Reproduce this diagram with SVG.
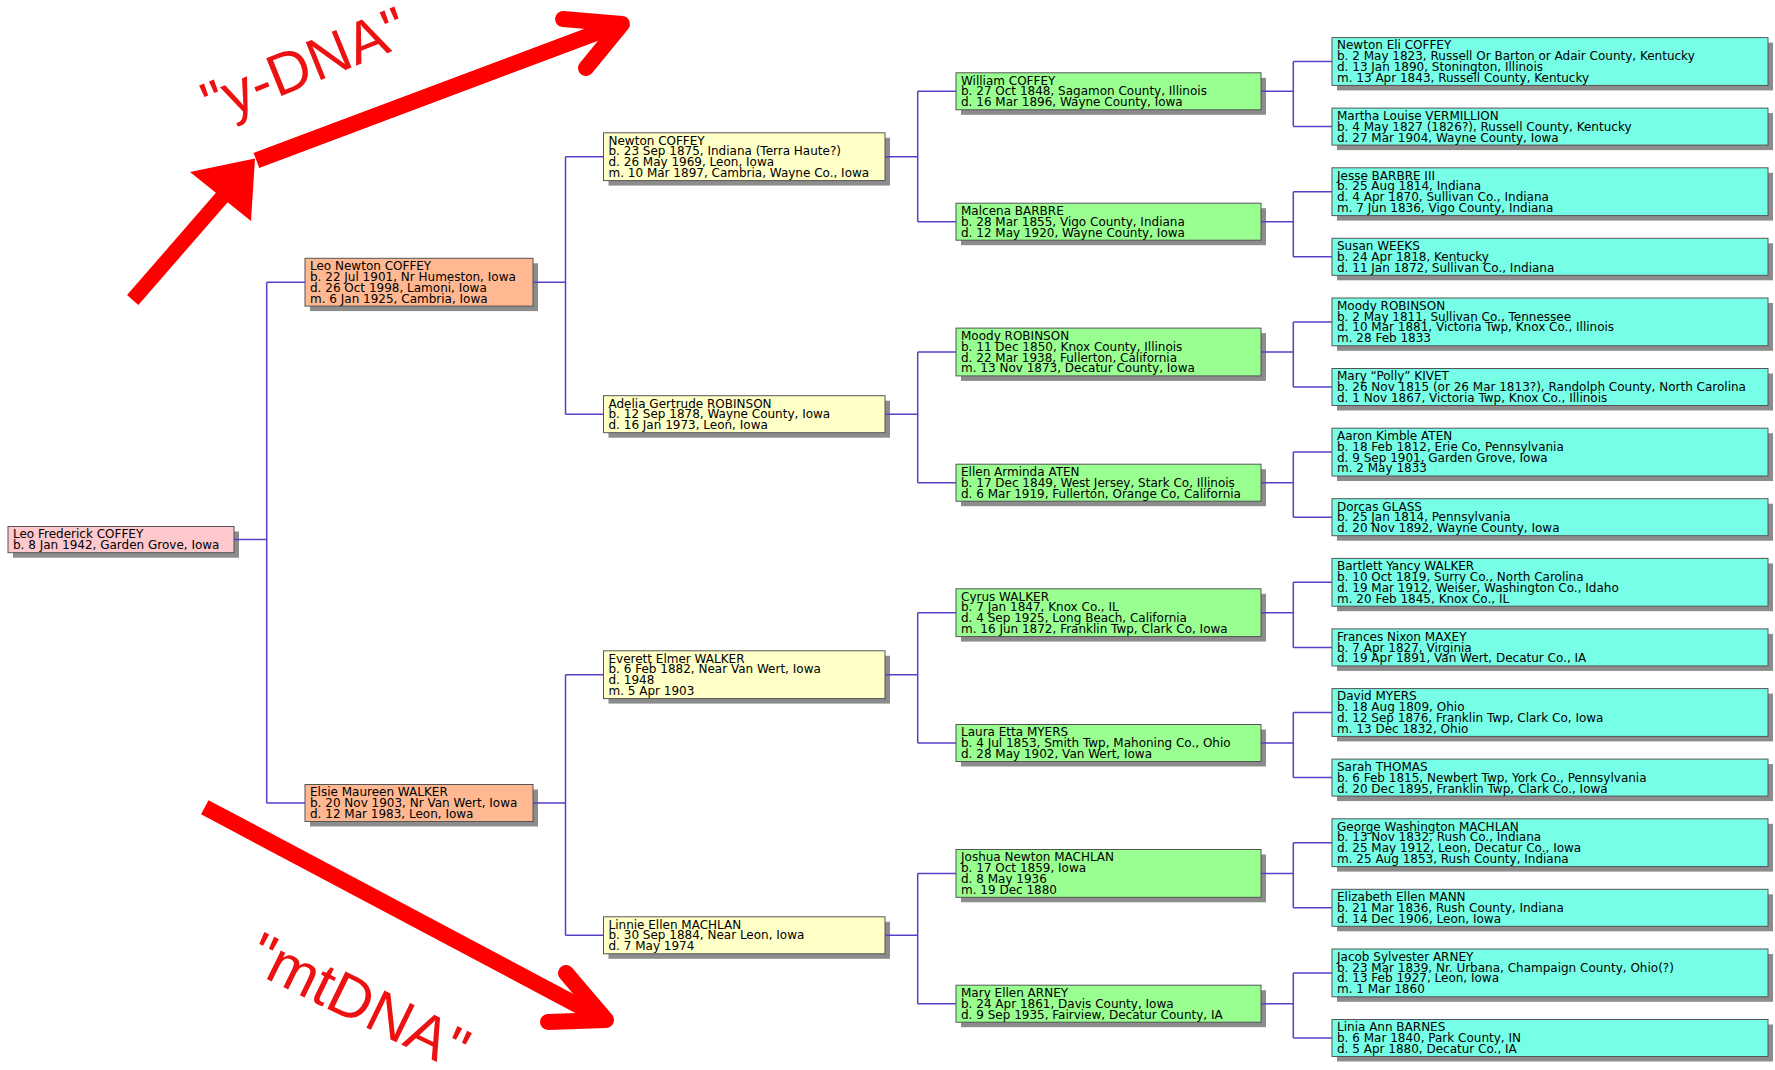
<svg xmlns="http://www.w3.org/2000/svg" width="1775" height="1070" viewBox="0 0 1775 1070">
<style>
.sh{fill:#8c8c8c}
.bx{stroke:#555;stroke-width:1}
.c0{fill:#ffc8cc}.c1{fill:#ffb892}.c2{fill:#ffffc8}.c3{fill:#99ff90}.c4{fill:#76ffe6}
.t{font-family:"DejaVu Sans",Verdana,sans-serif;font-size:12px;fill:#000}
.cn{stroke:#5b3ec8;stroke-width:1.5;fill:none}
.ar{stroke:#ff0000;fill:none}
.big{font-family:"Liberation Sans",Arial,sans-serif;fill:#ee1111}
</style>
<rect width="1775" height="1070" fill="#fff"/>

<!-- Column 0 -->
<g id="p1"><rect class="sh" x="13" y="531.5" width="226" height="26.2"/><rect class="bx c0" x="8" y="526.5" width="226" height="26.2"/>
<text class="t" x="13" y="538.3"><tspan x="13">Leo Frederick COFFEY</tspan><tspan x="13" dy="10.8">b. 8 Jan 1942, Garden Grove, Iowa</tspan></text></g>

<!-- Column 1 -->
<g id="p2"><rect class="sh" x="310" y="263.3" width="228" height="47.8"/><rect class="bx c1" x="305" y="258.3" width="228" height="47.8"/>
<text class="t" x="310" y="270.1"><tspan x="310">Leo Newton COFFEY</tspan><tspan x="310" dy="10.8">b. 22 Jul 1901, Nr Humeston, Iowa</tspan><tspan x="310" dy="10.8">d. 26 Oct 1998, Lamoni, Iowa</tspan><tspan x="310" dy="10.8">m. 6 Jan 1925, Cambria, Iowa</tspan></text></g>
<g id="p3"><rect class="sh" x="310" y="789.5" width="228" height="37"/><rect class="bx c1" x="305" y="784.5" width="228" height="37"/>
<text class="t" x="310" y="796.3"><tspan x="310">Elsie Maureen WALKER</tspan><tspan x="310" dy="10.8">b. 20 Nov 1903, Nr Van Wert, Iowa</tspan><tspan x="310" dy="10.8">d. 12 Mar 1983, Leon, Iowa</tspan></text></g>

<!-- Column 2 -->
<g id="p4"><rect class="sh" x="608.5" y="137.8" width="281.5" height="47.8"/><rect class="bx c2" x="603.5" y="132.8" width="281.5" height="47.8"/>
<text class="t" x="608.5" y="144.6"><tspan x="608.5">Newton COFFEY</tspan><tspan x="608.5" dy="10.8">b. 23 Sep 1875, Indiana (Terra Haute?)</tspan><tspan x="608.5" dy="10.8">d. 26 May 1969, Leon, Iowa</tspan><tspan x="608.5" dy="10.8">m. 10 Mar 1897, Cambria, Wayne Co., Iowa</tspan></text></g>
<g id="p5"><rect class="sh" x="608.5" y="400.7" width="281.5" height="37"/><rect class="bx c2" x="603.5" y="395.7" width="281.5" height="37"/>
<text class="t" x="608.5" y="407.5"><tspan x="608.5">Adelia Gertrude ROBINSON</tspan><tspan x="608.5" dy="10.8">b. 12 Sep 1878, Wayne County, Iowa</tspan><tspan x="608.5" dy="10.8">d. 16 Jan 1973, Leon, Iowa</tspan></text></g>
<g id="p6"><rect class="sh" x="608.5" y="655.8" width="281.5" height="47.8"/><rect class="bx c2" x="603.5" y="650.8" width="281.5" height="47.8"/>
<text class="t" x="608.5" y="662.6"><tspan x="608.5">Everett Elmer WALKER</tspan><tspan x="608.5" dy="10.8">b. 6 Feb 1882, Near Van Wert, Iowa</tspan><tspan x="608.5" dy="10.8">d. 1948</tspan><tspan x="608.5" dy="10.8">m. 5 Apr 1903</tspan></text></g>
<g id="p7"><rect class="sh" x="608.5" y="921.8" width="281.5" height="37"/><rect class="bx c2" x="603.5" y="916.8" width="281.5" height="37"/>
<text class="t" x="608.5" y="928.6"><tspan x="608.5">Linnie Ellen MACHLAN</tspan><tspan x="608.5" dy="10.8">b. 30 Sep 1884, Near Leon, Iowa</tspan><tspan x="608.5" dy="10.8">d. 7 May 1974</tspan></text></g>

<!-- Column 3 -->
<g id="p8"><rect class="sh" x="961" y="77.8" width="305" height="37"/><rect class="bx c3" x="956" y="72.8" width="305" height="37"/>
<text class="t" x="961" y="84.6"><tspan x="961">William COFFEY</tspan><tspan x="961" dy="10.8">b. 27 Oct 1848, Sagamon County, Illinois</tspan><tspan x="961" dy="10.8">d. 16 Mar 1896, Wayne County, Iowa</tspan></text></g>
<g id="p9"><rect class="sh" x="961" y="208.2" width="305" height="37"/><rect class="bx c3" x="956" y="203.2" width="305" height="37"/>
<text class="t" x="961" y="215"><tspan x="961">Malcena BARBRE</tspan><tspan x="961" dy="10.8">b. 28 Mar 1855, Vigo County, Indiana</tspan><tspan x="961" dy="10.8">d. 12 May 1920, Wayne County, Iowa</tspan></text></g>
<g id="p10"><rect class="sh" x="961" y="333.1" width="305" height="47.8"/><rect class="bx c3" x="956" y="328.1" width="305" height="47.8"/>
<text class="t" x="961" y="339.9"><tspan x="961">Moody ROBINSON</tspan><tspan x="961" dy="10.8">b. 11 Dec 1850, Knox County, Illinois</tspan><tspan x="961" dy="10.8">d. 22 Mar 1938, Fullerton, California</tspan><tspan x="961" dy="10.8">m. 13 Nov 1873, Decatur County, Iowa</tspan></text></g>
<g id="p11"><rect class="sh" x="961" y="469.2" width="305" height="37"/><rect class="bx c3" x="956" y="464.2" width="305" height="37"/>
<text class="t" x="961" y="476"><tspan x="961">Ellen Arminda ATEN</tspan><tspan x="961" dy="10.8">b. 17 Dec 1849, West Jersey, Stark Co, Illinois</tspan><tspan x="961" dy="10.8">d. 6 Mar 1919, Fullerton, Orange Co, California</tspan></text></g>
<g id="p12"><rect class="sh" x="961" y="593.8" width="305" height="47.8"/><rect class="bx c3" x="956" y="588.8" width="305" height="47.8"/>
<text class="t" x="961" y="600.6"><tspan x="961">Cyrus WALKER</tspan><tspan x="961" dy="10.8">b. 7 Jan 1847, Knox Co., IL</tspan><tspan x="961" dy="10.8">d. 4 Sep 1925, Long Beach, California</tspan><tspan x="961" dy="10.8">m. 16 Jun 1872, Franklin Twp, Clark Co, Iowa</tspan></text></g>
<g id="p13"><rect class="sh" x="961" y="729.5" width="305" height="37"/><rect class="bx c3" x="956" y="724.5" width="305" height="37"/>
<text class="t" x="961" y="736.3"><tspan x="961">Laura Etta MYERS</tspan><tspan x="961" dy="10.8">b. 4 Jul 1853, Smith Twp, Mahoning Co., Ohio</tspan><tspan x="961" dy="10.8">d. 28 May 1902, Van Wert, Iowa</tspan></text></g>
<g id="p14"><rect class="sh" x="961" y="854.5" width="305" height="47.8"/><rect class="bx c3" x="956" y="849.5" width="305" height="47.8"/>
<text class="t" x="961" y="861.3"><tspan x="961">Joshua Newton MACHLAN</tspan><tspan x="961" dy="10.8">b. 17 Oct 1859, Iowa</tspan><tspan x="961" dy="10.8">d. 8 May 1936</tspan><tspan x="961" dy="10.8">m. 19 Dec 1880</tspan></text></g>
<g id="p15"><rect class="sh" x="961" y="990.2" width="305" height="37"/><rect class="bx c3" x="956" y="985.2" width="305" height="37"/>
<text class="t" x="961" y="997"><tspan x="961">Mary Ellen ARNEY</tspan><tspan x="961" dy="10.8">b. 24 Apr 1861, Davis County, Iowa</tspan><tspan x="961" dy="10.8">d. 9 Sep 1935, Fairview, Decatur County, IA</tspan></text></g>

<!-- Column 4 -->
<g id="p16"><rect class="sh" x="1337" y="42.6" width="436" height="47.8"/><rect class="bx c4" x="1332" y="37.6" width="436" height="47.8"/>
<text class="t" x="1337" y="49.4"><tspan x="1337">Newton Eli COFFEY</tspan><tspan x="1337" dy="10.8">b. 2 May 1823, Russell Or Barton or Adair County, Kentucky</tspan><tspan x="1337" dy="10.8">d. 13 Jan 1890, Stonington, Illinois</tspan><tspan x="1337" dy="10.8">m. 13 Apr 1843, Russell County, Kentucky</tspan></text></g>
<g id="p17"><rect class="sh" x="1337" y="113.1" width="436" height="37"/><rect class="bx c4" x="1332" y="108.1" width="436" height="37"/>
<text class="t" x="1337" y="119.9"><tspan x="1337">Martha Louise VERMILLION</tspan><tspan x="1337" dy="10.8">b. 4 May 1827 (1826?), Russell County, Kentucky</tspan><tspan x="1337" dy="10.8">d. 27 Mar 1904, Wayne County, Iowa</tspan></text></g>
<g id="p18"><rect class="sh" x="1337" y="172.8" width="436" height="47.8"/><rect class="bx c4" x="1332" y="167.8" width="436" height="47.8"/>
<text class="t" x="1337" y="179.6"><tspan x="1337">Jesse BARBRE III</tspan><tspan x="1337" dy="10.8">b. 25 Aug 1814, Indiana</tspan><tspan x="1337" dy="10.8">d. 4 Apr 1870, Sullivan Co., Indiana</tspan><tspan x="1337" dy="10.8">m. 7 Jun 1836, Vigo County, Indiana</tspan></text></g>
<g id="p19"><rect class="sh" x="1337" y="243.3" width="436" height="37"/><rect class="bx c4" x="1332" y="238.3" width="436" height="37"/>
<text class="t" x="1337" y="250.1"><tspan x="1337">Susan WEEKS</tspan><tspan x="1337" dy="10.8">b. 24 Apr 1818, Kentucky</tspan><tspan x="1337" dy="10.8">d. 11 Jan 1872, Sullivan Co., Indiana</tspan></text></g>
<g id="p20"><rect class="sh" x="1337" y="303" width="436" height="47.8"/><rect class="bx c4" x="1332" y="298" width="436" height="47.8"/>
<text class="t" x="1337" y="309.8"><tspan x="1337">Moody ROBINSON</tspan><tspan x="1337" dy="10.8">b. 2 May 1811, Sullivan Co., Tennessee</tspan><tspan x="1337" dy="10.8">d. 10 Mar 1881, Victoria Twp, Knox Co., Illinois</tspan><tspan x="1337" dy="10.8">m. 28 Feb 1833</tspan></text></g>
<g id="p21"><rect class="sh" x="1337" y="373.5" width="436" height="37"/><rect class="bx c4" x="1332" y="368.5" width="436" height="37"/>
<text class="t" x="1337" y="380.3"><tspan x="1337">Mary “Polly” KIVET</tspan><tspan x="1337" dy="10.8">b. 26 Nov 1815 (or 26 Mar 1813?), Randolph County, North Carolina</tspan><tspan x="1337" dy="10.8">d. 1 Nov 1867, Victoria Twp, Knox Co., Illinois</tspan></text></g>
<g id="p22"><rect class="sh" x="1337" y="433.2" width="436" height="47.8"/><rect class="bx c4" x="1332" y="428.2" width="436" height="47.8"/>
<text class="t" x="1337" y="440"><tspan x="1337">Aaron Kimble ATEN</tspan><tspan x="1337" dy="10.8">b. 18 Feb 1812, Erie Co, Pennsylvania</tspan><tspan x="1337" dy="10.8">d. 9 Sep 1901, Garden Grove, Iowa</tspan><tspan x="1337" dy="10.8">m. 2 May 1833</tspan></text></g>
<g id="p23"><rect class="sh" x="1337" y="503.7" width="436" height="37"/><rect class="bx c4" x="1332" y="498.7" width="436" height="37"/>
<text class="t" x="1337" y="510.5"><tspan x="1337">Dorcas GLASS</tspan><tspan x="1337" dy="10.8">b. 25 Jan 1814, Pennsylvania</tspan><tspan x="1337" dy="10.8">d. 20 Nov 1892, Wayne County, Iowa</tspan></text></g>
<g id="p24"><rect class="sh" x="1337" y="563.4" width="436" height="47.8"/><rect class="bx c4" x="1332" y="558.4" width="436" height="47.8"/>
<text class="t" x="1337" y="570.2"><tspan x="1337">Bartlett Yancy WALKER</tspan><tspan x="1337" dy="10.8">b. 10 Oct 1819, Surry Co., North Carolina</tspan><tspan x="1337" dy="10.8">d. 19 Mar 1912, Weiser, Washington Co., Idaho</tspan><tspan x="1337" dy="10.8">m. 20 Feb 1845, Knox Co., IL</tspan></text></g>
<g id="p25"><rect class="sh" x="1337" y="633.9" width="436" height="37"/><rect class="bx c4" x="1332" y="628.9" width="436" height="37"/>
<text class="t" x="1337" y="640.7"><tspan x="1337">Frances Nixon MAXEY</tspan><tspan x="1337" dy="10.8">b. 7 Apr 1827, Virginia</tspan><tspan x="1337" dy="10.8">d. 19 Apr 1891, Van Wert, Decatur Co., IA</tspan></text></g>
<g id="p26"><rect class="sh" x="1337" y="693.6" width="436" height="47.8"/><rect class="bx c4" x="1332" y="688.6" width="436" height="47.8"/>
<text class="t" x="1337" y="700.4"><tspan x="1337">David MYERS</tspan><tspan x="1337" dy="10.8">b. 18 Aug 1809, Ohio</tspan><tspan x="1337" dy="10.8">d. 12 Sep 1876, Franklin Twp, Clark Co, Iowa</tspan><tspan x="1337" dy="10.8">m. 13 Dec 1832, Ohio</tspan></text></g>
<g id="p27"><rect class="sh" x="1337" y="764.1" width="436" height="37"/><rect class="bx c4" x="1332" y="759.1" width="436" height="37"/>
<text class="t" x="1337" y="770.9"><tspan x="1337">Sarah THOMAS</tspan><tspan x="1337" dy="10.8">b. 6 Feb 1815, Newbert Twp, York Co., Pennsylvania</tspan><tspan x="1337" dy="10.8">d. 20 Dec 1895, Franklin Twp, Clark Co., Iowa</tspan></text></g>
<g id="p28"><rect class="sh" x="1337" y="823.8" width="436" height="47.8"/><rect class="bx c4" x="1332" y="818.8" width="436" height="47.8"/>
<text class="t" x="1337" y="830.6"><tspan x="1337">George Washington MACHLAN</tspan><tspan x="1337" dy="10.8">b. 13 Nov 1832, Rush Co., Indiana</tspan><tspan x="1337" dy="10.8">d. 25 May 1912, Leon, Decatur Co., Iowa</tspan><tspan x="1337" dy="10.8">m. 25 Aug 1853, Rush County, Indiana</tspan></text></g>
<g id="p29"><rect class="sh" x="1337" y="894.3" width="436" height="37"/><rect class="bx c4" x="1332" y="889.3" width="436" height="37"/>
<text class="t" x="1337" y="901.1"><tspan x="1337">Elizabeth Ellen MANN</tspan><tspan x="1337" dy="10.8">b. 21 Mar 1836, Rush County, Indiana</tspan><tspan x="1337" dy="10.8">d. 14 Dec 1906, Leon, Iowa</tspan></text></g>
<g id="p30"><rect class="sh" x="1337" y="954" width="436" height="47.8"/><rect class="bx c4" x="1332" y="949" width="436" height="47.8"/>
<text class="t" x="1337" y="960.8"><tspan x="1337">Jacob Sylvester ARNEY</tspan><tspan x="1337" dy="10.8">b. 23 Mar 1839, Nr. Urbana, Champaign County, Ohio(?)</tspan><tspan x="1337" dy="10.8">d. 13 Feb 1927, Leon, Iowa</tspan><tspan x="1337" dy="10.8">m. 1 Mar 1860</tspan></text></g>
<g id="p31"><rect class="sh" x="1337" y="1024.5" width="436" height="37"/><rect class="bx c4" x="1332" y="1019.5" width="436" height="37"/>
<text class="t" x="1337" y="1031.3"><tspan x="1337">Linia Ann BARNES</tspan><tspan x="1337" dy="10.8">b. 6 Mar 1840, Park County, IN</tspan><tspan x="1337" dy="10.8">d. 5 Apr 1880, Decatur Co., IA</tspan></text></g>

<!-- Connectors -->
<g id="connectors" class="cn">
<path d="M234,539.6H266.7M266.7,282.2V803M266.7,282.2H305M266.7,803H305"/>
<path d="M533,282.2H565.5M565.5,156.7V414.2M565.5,156.7H603.5M565.5,414.2H603.5"/>
<path d="M533,803H565.5M565.5,674.7V935.3M565.5,674.7H603.5M565.5,935.3H603.5"/>
<path d="M885,156.7H917.7M917.7,91.3V221.7M917.7,91.3H956M917.7,221.7H956"/>
<path d="M885,414.2H917.7M917.7,352V482.7M917.7,352H956M917.7,482.7H956"/>
<path d="M885,674.7H917.7M917.7,612.7V743M917.7,612.7H956M917.7,743H956"/>
<path d="M885,935.3H917.7M917.7,873.4V1003.7M917.7,873.4H956M917.7,1003.7H956"/>
<path d="M1261,91.3H1293.3M1293.3,61.5V126.6M1293.3,61.5H1332M1293.3,126.6H1332"/>
<path d="M1261,221.7H1293.3M1293.3,191.7V256.8M1293.3,191.7H1332M1293.3,256.8H1332"/>
<path d="M1261,352H1293.3M1293.3,321.9V387M1293.3,321.9H1332M1293.3,387H1332"/>
<path d="M1261,482.7H1293.3M1293.3,452.1V517.2M1293.3,452.1H1332M1293.3,517.2H1332"/>
<path d="M1261,612.7H1293.3M1293.3,582.3V647.4M1293.3,582.3H1332M1293.3,647.4H1332"/>
<path d="M1261,743H1293.3M1293.3,712.5V777.6M1293.3,712.5H1332M1293.3,777.6H1332"/>
<path d="M1261,873.4H1293.3M1293.3,842.7V907.8M1293.3,842.7H1332M1293.3,907.8H1332"/>
<path d="M1261,1003.7H1293.3M1293.3,972.9V1038M1293.3,972.9H1332M1293.3,1038H1332"/>
</g>

<!-- Red annotation arrows and labels -->
<g id="ydna">
<line class="ar" x1="132.7" y1="300" x2="224" y2="195" stroke-width="15"/>
<polygon points="190,172 255,158.5 251,221" fill="#ff0000"/>
<line class="ar" x1="256.4" y1="160.5" x2="612" y2="27" stroke-width="16"/>
<polyline class="ar" points="563,19 622,24 586,68" stroke-width="16" stroke-linecap="round" stroke-linejoin="round"/>
<text class="big" x="212" y="124" font-size="59" transform="rotate(-22 212 124)">"y-DNA"</text>
</g>
<g id="mtdna">
<line class="ar" x1="204.8" y1="807.2" x2="598" y2="1016" stroke-width="16"/>
<polyline class="ar" points="566,973 606,1020 548,1022" stroke-width="16" stroke-linecap="round" stroke-linejoin="round"/>
<text class="big" x="244" y="968" font-size="60" transform="rotate(26 244 968)">"mtDNA"</text>
</g>
</svg>
